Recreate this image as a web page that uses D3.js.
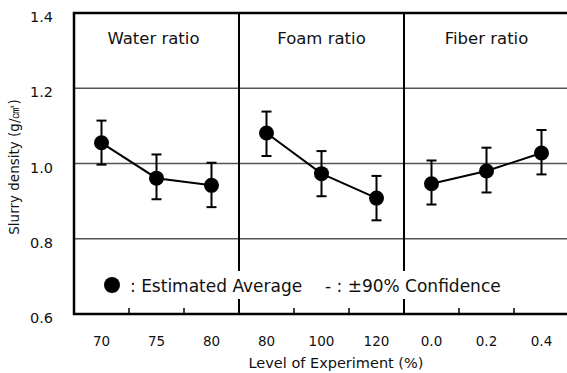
<!DOCTYPE html>
<html>
<head>
<meta charset="utf-8">
<script src="https://cdn.jsdelivr.net/npm/d3@7"></script>
<style>
  body { margin: 0; background: #fff; }
  text { font-family: "DejaVu Sans", "Liberation Sans", Arial, sans-serif; fill: #111; }
</style>
</head>
<body>
<div id="chart"></div>
<script>
// data
var factors = ["Water ratio", "Foam ratio", "Fiber ratio"];
var levels = ["70", "75", "80", "80", "100", "120", "0.0", "0.2", "0.4"];
var factorOf = [0, 0, 0, 1, 1, 1, 2, 2, 2];
var means = [1.055, 0.961, 0.942, 1.081, 0.973, 0.908, 0.946, 0.980, 1.028];
var upper = [1.114, 1.024, 1.002, 1.138, 1.033, 0.967, 1.008, 1.042, 1.089];
var lower = [0.997, 0.905, 0.884, 1.020, 0.913, 0.849, 0.891, 0.923, 0.971];
var yTicks = [0.6, 0.8, 1.0, 1.2, 1.4];
var gridVals = [0.8, 1.0, 1.2];

var W = 567, H = 373;
var pLeft = 74, pRight = 569, pTop = 13, pBottom = 314;

var svg = d3.select("#chart").append("svg")
  .attr("width", W)
  .attr("height", H);

var x = d3.scaleBand()
  .domain(d3.range(levels.length))
  .range([pLeft, pRight]);

var y = d3.scaleLinear()
  .domain([0.6, 1.4])
  .range([pBottom, pTop]);

var cx = function(i) { return x(i) + x.bandwidth() / 2; };

// gridlines
svg.selectAll(".grid").data(gridVals).enter()
  .append("line")
  .attr("x1", pLeft).attr("x2", pRight)
  .attr("y1", function(d) { return y(d); })
  .attr("y2", function(d) { return y(d); })
  .attr("stroke", "#555")
  .attr("stroke-width", 1.3);

// panel dividers
var panelEdges = [3, 6];
svg.selectAll(".divider").data(panelEdges).enter()
  .append("line")
  .attr("x1", function(d) { return x(d); })
  .attr("x2", function(d) { return x(d); })
  .attr("y1", pTop).attr("y2", pBottom)
  .attr("stroke", "#000")
  .attr("stroke-width", 2);

// small ticks on the bottom axis
svg.selectAll(".xtick").data(d3.range(1, levels.length)).enter()
  .append("line")
  .attr("x1", function(d) { return x(d); })
  .attr("x2", function(d) { return x(d); })
  .attr("y1", pBottom).attr("y2", pBottom - 6)
  .attr("stroke", "#000")
  .attr("stroke-width", 1.5);

// frame: top, left, bottom
svg.append("path")
  .attr("d", "M" + pRight + "," + pTop + "H" + pLeft + "V" + pBottom + "H" + pRight)
  .attr("fill", "none")
  .attr("stroke", "#000")
  .attr("stroke-width", 2.5);

// y tick labels
svg.selectAll(".ylab").data(yTicks).enter()
  .append("text")
  .attr("x", 53)
  .attr("y", function(d) { return y(d) + 9; })
  .attr("text-anchor", "end")
  .attr("font-size", 14.5)
  .text(function(d) { return d.toFixed(1); });

// y title
svg.append("text")
  .attr("transform", "translate(19,167) rotate(-90)")
  .attr("text-anchor", "middle")
  .attr("font-size", 13.5)
  .text("Slurry density (g/㎤)");

// x tick labels
svg.selectAll(".xlab").data(levels).enter()
  .append("text")
  .attr("x", function(d, i) { return cx(i); })
  .attr("y", 346)
  .attr("text-anchor", "middle")
  .attr("font-size", 13.5)
  .text(function(d) { return d; });

// x title
svg.append("text")
  .attr("x", 336)
  .attr("y", 368)
  .attr("text-anchor", "middle")
  .attr("font-size", 14.5)
  .text("Level of Experiment (%)");

// panel titles
var titleShift = [-3, 0, 0];
svg.selectAll(".ptitle").data(factors).enter()
  .append("text")
  .attr("x", function(d, i) { return x(i * 3) + x.bandwidth() * 1.5 + titleShift[i]; })
  .attr("y", 43.5)
  .attr("text-anchor", "middle")
  .attr("font-size", 16.5)
  .text(function(d) { return d; });

// connecting lines, one per factor
var line = d3.line()
  .x(function(i) { return cx(i); })
  .y(function(i) { return y(means[i]); });

factors.forEach(function(f, fi) {
  var idx = d3.range(levels.length).filter(function(i) { return factorOf[i] === fi; });
  svg.append("path")
    .attr("d", line(idx))
    .attr("fill", "none")
    .attr("stroke", "#000")
    .attr("stroke-width", 2);
});

// error bars
var eb = svg.selectAll(".err").data(means).enter().append("g");
eb.append("line")
  .attr("x1", function(d, i) { return cx(i); })
  .attr("x2", function(d, i) { return cx(i); })
  .attr("y1", function(d, i) { return y(upper[i]); })
  .attr("y2", function(d, i) { return y(lower[i]); })
  .attr("stroke", "#000").attr("stroke-width", 2);
eb.append("line")
  .attr("x1", function(d, i) { return cx(i) - 5; })
  .attr("x2", function(d, i) { return cx(i) + 5; })
  .attr("y1", function(d, i) { return y(upper[i]); })
  .attr("y2", function(d, i) { return y(upper[i]); })
  .attr("stroke", "#000").attr("stroke-width", 2);
eb.append("line")
  .attr("x1", function(d, i) { return cx(i) - 5; })
  .attr("x2", function(d, i) { return cx(i) + 5; })
  .attr("y1", function(d, i) { return y(lower[i]); })
  .attr("y2", function(d, i) { return y(lower[i]); })
  .attr("stroke", "#000").attr("stroke-width", 2);

// markers
svg.selectAll(".pt").data(means).enter()
  .append("circle")
  .attr("cx", function(d, i) { return cx(i); })
  .attr("cy", function(d) { return y(d); })
  .attr("r", 7.5)
  .attr("fill", "#000");

// legend (white band behind the texts breaks the dividers, as in the original)
var legend = svg.append("g");
legend.append("rect")
  .attr("x", 128).attr("y", 271)
  .attr("width", 390).attr("height", 28)
  .attr("fill", "#fff");
legend.append("circle")
  .attr("cx", 112).attr("cy", 285).attr("r", 8).attr("fill", "#000");
legend.append("text")
  .attr("x", 130).attr("y", 292)
  .attr("font-size", 17)
  .text(": Estimated Average");
legend.append("text")
  .attr("x", 325).attr("y", 292)
  .attr("font-size", 17)
  .text("- : ±90% Confidence");
</script>
</body>
</html>
